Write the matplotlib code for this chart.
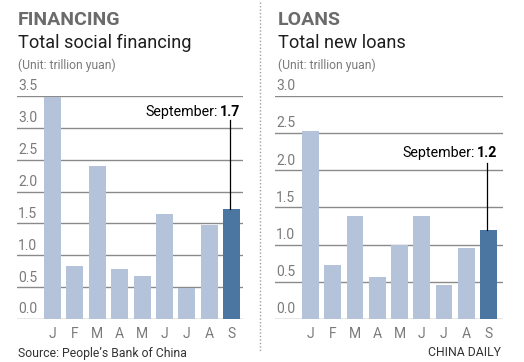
import matplotlib
matplotlib.use('Agg')
from matplotlib import pyplot as plt
from matplotlib.lines import Line2D
from matplotlib.transforms import blended_transform_factory

plt.rcParams['font.family'] = ['Roboto', 'DejaVu Sans']

months = ['J', 'F', 'M', 'A', 'M', 'J', 'J', 'A', 'S']
financing = [3.48, 0.83, 2.40, 0.78, 0.67, 1.65, 0.49, 1.48, 1.73]
loans = [2.52, 0.73, 1.38, 0.56, 0.99, 1.38, 0.46, 0.95, 1.20]
fin_ticks = [0.0, 0.5, 1.0, 1.5, 2.0, 2.5, 3.0, 3.5]
loan_ticks = [0.0, 0.5, 1.0, 1.5, 2.0, 2.5, 3.0]

W, H = 524, 362
LIGHT = '#b4c2da'
DARK = '#4b76a2'
GRID = '#8a8a8a'
GREY_TXT = '#7a7a7a'


def px_axes(fig, x0, y0, x1, y1):
    # pixel box (top-left origin) -> figure axes
    return fig.add_axes([x0 / W, 1 - y1 / H, (x1 - x0) / W, (y1 - y0) / H])


def draw_panel(ax, values, ticks, xlim, label_top, label_y, label_text, value_text):
    ax.set_xlim(*xlim)
    ax.set_ylim(0, ticks[-1])
    for s in ax.spines.values():
        s.set_visible(False)
    ax.set_xticks([])
    ax.set_yticks([])
    trans = blended_transform_factory(ax.transAxes, ax.transData)
    for t in ticks:
        ax.axhline(t, color=GRID, lw=1.0, zorder=1)
        ax.text(0.005, t + 0.04 * ticks[-1] / 3.5, '%.1f' % t, transform=trans,
                ha='left', va='bottom', fontsize=10, color=GREY_TXT)
    colors = [LIGHT] * (len(values) - 1) + [DARK]
    x = list(range(len(values)))
    ax.bar(x, values, width=0.76, color=colors, zorder=2)
    for i, m in enumerate(months):
        ax.text(i, -0.035, m, transform=blended_transform_factory(ax.transData, ax.transAxes),
                ha='center', va='top', fontsize=10, color=GREY_TXT)
    last = len(values) - 1
    ax.plot([last - 0.05, last - 0.05], [values[-1], label_top], color='black', lw=0.9, zorder=3)
    bold = ax.text(last + 0.38, label_y, value_text, ha='right', va='bottom',
                   fontsize=10.3, fontweight='bold', color='black')
    ax.annotate(label_text, xy=(0, 0), xycoords=bold, xytext=(-1, 0),
                textcoords='offset points', ha='right', va='bottom',
                fontsize=10.3, color='black')


fig = plt.figure(figsize=(W / 100, H / 100), dpi=100)

ax1 = px_axes(fig, 17, 96, 243, 319)
draw_panel(ax1, financing, fin_ticks, (-1.587, 8.514), 3.12, 3.14, 'September:', '1.7')

ax2 = px_axes(fig, 275, 95.7, 503, 319)
draw_panel(ax2, loans, loan_ticks, (-1.596, 8.652), 2.10, 2.14, 'September:', '1.2')

# headers
for x0, head, sub in [(18, 'FINANCING', 'Total social financing'), (278, 'LOANS', 'Total new loans')]:
    fig.text(x0 / W, 1 - 25 / H, head, fontsize=14, fontweight='bold', color='#6b6b6b',
             ha='left', va='baseline')
    fig.text(x0 / W, 1 - 48 / H, sub, fontsize=13.1, color='#1e1e1e', ha='left', va='baseline')
    fig.text(x0 / W, 1 - 69 / H, '(Unit: trillion yuan)', fontsize=8.7, color=GREY_TXT,
             ha='left', va='baseline')

fig.text(18 / W, 1 - 353 / H, "Source: People\u2019s Bank of China", fontsize=8.8,
         color='#333333', ha='left', va='center')
fig.text(501 / W, 1 - 353 / H, 'CHINA DAILY', fontsize=8.8, color='#333333',
         ha='right', va='center')

# dotted separator
fig.add_artist(Line2D([260 / W, 260 / W], [1 - 2 / H, 1 - 352 / H], transform=fig.transFigure,
                      color='#a0a0a0', lw=1.0, linestyle=(0, (1, 1.5))))

fig.savefig('out.png', dpi=100)
